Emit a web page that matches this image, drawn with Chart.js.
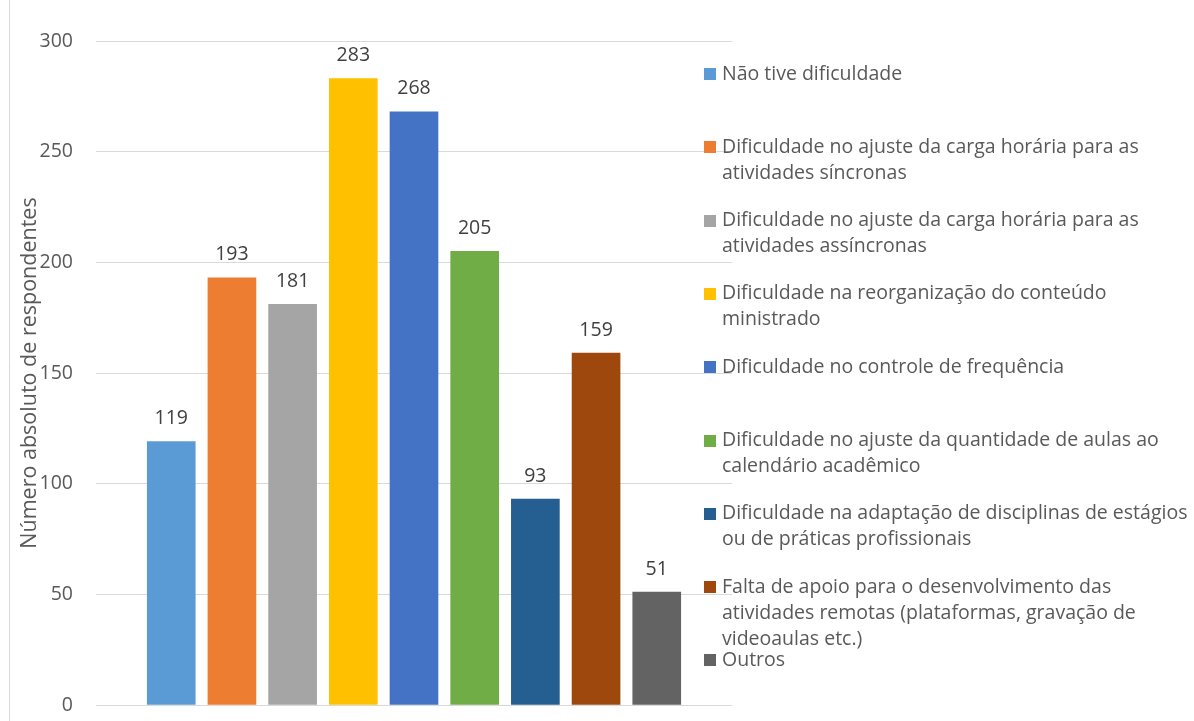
<!DOCTYPE html>
<html>
<head>
<meta charset="utf-8">
<script src="https://cdn.jsdelivr.net/npm/chart.js@4"></script>
<style>
  html, body { margin: 0; padding: 0; background: #fff; overflow: hidden; }
  #wrap { width: 1194px; height: 721px; position: relative; }
</style>
</head>
<body>
<div id="wrap"><canvas id="grafico"></canvas></div>
<script>
// dados
const categorias = [
  ['Não tive dificuldade'],
  ['Dificuldade no ajuste da carga horária para as', 'atividades síncronas'],
  ['Dificuldade no ajuste da carga horária para as', 'atividades assíncronas'],
  ['Dificuldade na reorganização do conteúdo', 'ministrado'],
  ['Dificuldade no controle de frequência'],
  ['Dificuldade no ajuste da quantidade de aulas ao', 'calendário acadêmico'],
  ['Dificuldade na adaptação de disciplinas de estágios', 'ou de práticas profissionais'],
  ['Falta de apoio para o desenvolvimento das', 'atividades remotas (plataformas, gravação de', 'videoaulas etc.)'],
  ['Outros']
]
const valores = [119, 193, 181, 283, 268, 205, 93, 159, 51]
const cores = ['#5B9BD5', '#ED7D31', '#A5A5A5', '#FFC000', '#4472C4', '#70AD47', '#255E91', '#9E480E', '#636363']
const ticksY = [0, 50, 100, 150, 200, 250, 300]
const tituloY = 'Número absoluto de respondentes'

const fonte = "'Open Sans', sans-serif"
const tam = 19.5
Chart.defaults.font.family = fonte
Chart.defaults.font.size = tam
Chart.defaults.color = '#595959'

// borda cinza da esquerda
const borda = {
  id: 'borda',
  beforeDraw(chart) {
    const ctx = chart.ctx
    ctx.save()
    ctx.strokeStyle = '#D9D9D9'
    ctx.lineWidth = 1
    ctx.beginPath()
    ctx.moveTo(9.5, 0)
    ctx.lineTo(9.5, chart.height)
    ctx.stroke()
    ctx.restore()
  }
}

// rótulos em cima das barras
const rotulos = {
  id: 'rotulos',
  afterDatasetsDraw(chart) {
    const ctx = chart.ctx
    const meta = chart.getDatasetMeta(0)
    ctx.save()
    ctx.font = tam + 'px ' + fonte
    ctx.fillStyle = '#404040'
    ctx.textAlign = 'center'
    ctx.textBaseline = 'middle'
    meta.data.forEach((barra, i) => {
      ctx.fillText(valores[i], barra.x, barra.y - 23)
    })
    ctx.restore()
  }
}

// legenda à direita, com espaçamento fixo como no original
const legenda = {
  id: 'legenda',
  afterDraw(chart) {
    const ctx = chart.ctx
    ctx.save()
    ctx.font = tam + 'px ' + fonte
    ctx.textBaseline = 'middle'
    ctx.textAlign = 'left'
    categorias.forEach((linhas, i) => {
      const y0 = 74 + i * 73.3
      ctx.fillStyle = cores[i]
      ctx.fillRect(704, Math.round(y0 - 6), 12, 12)
      ctx.fillStyle = '#595959'
      linhas.forEach((t, j) => {
        ctx.fillText(t, 722, y0 + j * 26)
      })
    })
    ctx.restore()
  }
}

const ctx = document.getElementById('grafico')
new Chart(ctx, {
  type: 'bar',
  data: {
    datasets: [{
      data: valores.map((v, i) => ({ x: i, y: v })),
      backgroundColor: cores,
      barThickness: 48
    }]
  },
  options: {
    responsive: true,
    maintainAspectRatio: false,
    animation: false,
    layout: { padding: { top: 41, right: 462, bottom: 16, left: 0 } },
    plugins: {
      legend: { display: false },
      tooltip: { enabled: false }
    },
    scales: {
      x: {
        type: 'linear',
        display: false,
        offset: false,
        min: -1.24,
        max: 9.24
      },
      y: {
        min: 0,
        max: 300,
        afterFit(scale) {
          scale.width = 96
          scale.paddingTop = 0
          scale.paddingBottom = 0
        },
        afterBuildTicks(scale) { scale.ticks = ticksY.map(v => ({ value: v })) },
        border: { display: false },
        grid: { color: '#D9D9D9', lineWidth: 1, drawTicks: false },
        ticks: { padding: 23, color: '#595959' },
        title: {
          display: true,
          text: tituloY,
          color: '#595959',
          font: { size: 21.5 },
          padding: { top: 17, bottom: 0 }
        }
      }
    }
  },
  plugins: [borda, rotulos, legenda]
})
</script>
</body>
</html>
